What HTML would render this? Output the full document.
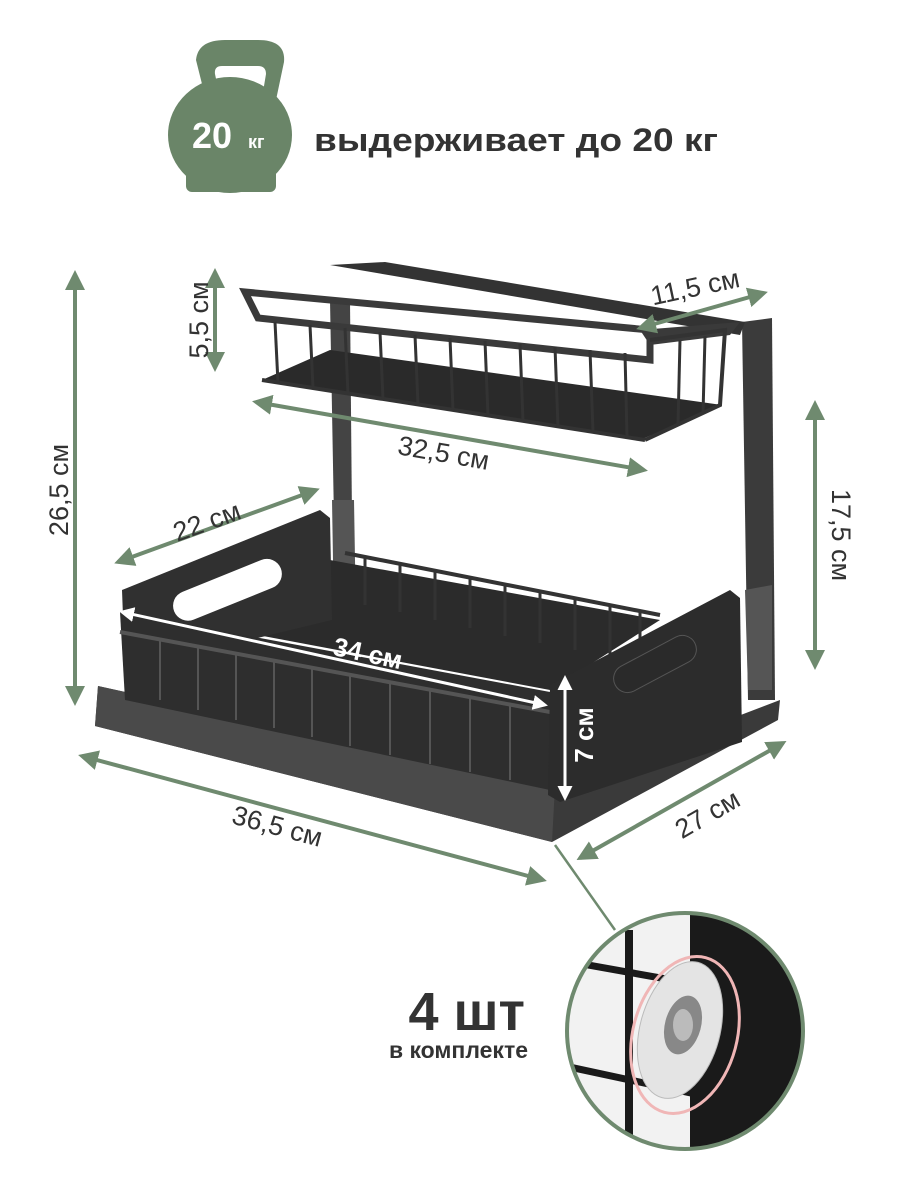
<!DOCTYPE html>
<html><head><meta charset="utf-8"><style>
html,body{margin:0;padding:0;background:#fff;}
svg{display:block}
text{font-family:"Liberation Sans",sans-serif;font-weight:bold;}
</style></head><body>
<svg width="900" height="1200" viewBox="0 0 900 1200" xmlns="http://www.w3.org/2000/svg">
<defs>
<marker id="ah" viewBox="0 0 10 10" refX="8" refY="5" markerWidth="5" markerHeight="5" orient="auto-start-reverse"><path d="M0,0 L10,5 L0,10 z" fill="#6f8a6f"/></marker>
<marker id="wh" viewBox="0 0 10 10" refX="8" refY="5" markerWidth="5" markerHeight="5" orient="auto-start-reverse"><path d="M0,0 L10,5 L0,10 z" fill="#fff"/></marker>
<clipPath id="cc"><circle cx="685" cy="1031" r="118"/></clipPath>
</defs>

<g fill="#6a8568">
<path d="M196,60 Q198,40 225,40 L258,40 Q286,40 284,62 L276,100 L262,98 L266,74 Q266,66 258,66 L222,66 Q214,66 215,74 L220,98 L206,100 Z"/>
<ellipse cx="230" cy="135" rx="62" ry="58"/>
<rect x="186" y="160" width="90" height="32" rx="6"/>
</g>
<text x="192" y="148" font-size="36" fill="#fff">20</text>
<text x="248" y="148" font-size="18" fill="#fff">кг</text>
<text x="314" y="151" font-size="32" fill="#333" textLength="404" lengthAdjust="spacingAndGlyphs">выдерживает до 20 кг</text>

<g>
<polygon points="742,322 772,318 775,700 748,700" fill="#3b3b3b"/>
<polygon points="745,590 772,585 772,690 748,690" fill="#555"/>
<polygon points="330,300 350,300 352,520 334,520" fill="#444"/>
<polygon points="332,500 354,500 356,620 334,620" fill="#555"/>
<polygon points="330,265 385,262 745,322 740,335" fill="#333"/>
<polygon points="245,292 650,330 650,360 258,318" fill="none" stroke="#3a3a3a" stroke-width="7"/>
<polygon points="262,380 640,440 722,405 330,350" fill="#2a2a2a"/>
<polygon points="640,330 740,322 730,335 650,345" fill="#3a3a3a"/>
<polyline points="650,340 725,330 720,405 645,440" fill="none" stroke="#333" stroke-width="4"/>
<line x1="262" y1="380" x2="645" y2="440" stroke="#333" stroke-width="4"/>
<g stroke="#333" stroke-width="3">
<line x1="275" y1="322" x2="278" y2="383"/><line x1="310" y1="325" x2="313" y2="388"/><line x1="345" y1="328" x2="348" y2="394"/><line x1="380" y1="332" x2="383" y2="399"/><line x1="415" y1="335" x2="418" y2="405"/><line x1="450" y1="338" x2="453" y2="410"/><line x1="485" y1="341" x2="488" y2="416"/><line x1="520" y1="344" x2="523" y2="421"/><line x1="555" y1="347" x2="558" y2="427"/><line x1="590" y1="350" x2="593" y2="432"/><line x1="625" y1="353" x2="627" y2="437"/>
<line x1="680" y1="340" x2="678" y2="425"/><line x1="705" y1="336" x2="703" y2="414"/>
</g>

<polygon points="98,686 555,786 780,700 778,720 552,842 95,726" fill="#3a3a3a"/>
<polygon points="98,686 555,786 552,842 95,726" fill="#4a4a4a"/>
<polygon points="125,610 330,560 660,620 550,690" fill="#2b2b2b"/>
<line x1="345" y1="553" x2="660" y2="615" stroke="#333" stroke-width="4"/>
<g stroke="#333" stroke-width="3">
<line x1="365" y1="557" x2="365" y2="605"/><line x1="400" y1="564" x2="400" y2="612"/><line x1="435" y1="571" x2="435" y2="620"/><line x1="470" y1="578" x2="470" y2="628"/><line x1="505" y1="585" x2="505" y2="636"/><line x1="540" y1="592" x2="540" y2="643"/><line x1="575" y1="599" x2="575" y2="650"/><line x1="610" y1="606" x2="610" y2="656"/><line x1="640" y1="612" x2="640" y2="660"/>
</g>
<polygon points="122,590 320,510 330,518 332,620 125,670" fill="#303030"/>
<rect x="170" y="575" width="115" height="30" rx="15" fill="#fff" transform="rotate(-22 227 590)"/>
<polygon points="120,612 550,692 550,790 125,700" fill="#2e2e2e"/>
<line x1="120" y1="632" x2="550" y2="712" stroke="#555" stroke-width="4"/>
<g stroke="#555" stroke-width="2">
<line x1="160" y1="640" x2="160" y2="700"/><line x1="198" y1="647" x2="198" y2="710"/><line x1="236" y1="654" x2="236" y2="720"/><line x1="274" y1="661" x2="274" y2="728"/><line x1="312" y1="668" x2="312" y2="737"/><line x1="350" y1="675" x2="350" y2="746"/><line x1="390" y1="683" x2="390" y2="755"/><line x1="430" y1="690" x2="430" y2="764"/><line x1="470" y1="697" x2="470" y2="772"/><line x1="510" y1="705" x2="510" y2="780"/>
</g>
<polygon points="550,685 730,590 740,598 742,742 560,802 548,795" fill="#2c2c2c"/>
<rect x="610" y="650" width="90" height="28" rx="14" fill="#2a2a2a" stroke="#555" transform="rotate(-28 655 664)"/>
</g>

<g stroke="#6f8a6f" stroke-width="4" fill="none">
<line x1="75" y1="274" x2="75" y2="702" marker-start="url(#ah)" marker-end="url(#ah)"/>
<line x1="215" y1="272" x2="215" y2="368" marker-start="url(#ah)" marker-end="url(#ah)"/>
<line x1="640" y1="328" x2="764" y2="293" marker-start="url(#ah)" marker-end="url(#ah)"/>
<line x1="256" y1="402" x2="644" y2="470" marker-start="url(#ah)" marker-end="url(#ah)"/>
<line x1="815" y1="404" x2="815" y2="666" marker-start="url(#ah)" marker-end="url(#ah)"/>
<line x1="118" y1="562" x2="316" y2="490" marker-start="url(#ah)" marker-end="url(#ah)"/>
<line x1="82" y1="756" x2="543" y2="880" marker-start="url(#ah)" marker-end="url(#ah)"/>
<line x1="580" y1="858" x2="783" y2="743" marker-start="url(#ah)" marker-end="url(#ah)"/>
<line x1="555" y1="845" x2="615" y2="930" stroke-width="2.5"/>
</g>
<g stroke="#fff" stroke-width="3">
<line x1="122" y1="612" x2="545" y2="705" marker-start="url(#wh)" marker-end="url(#wh)"/>
<line x1="565" y1="678" x2="565" y2="798" marker-start="url(#wh)" marker-end="url(#wh)"/>
</g>

<g fill="#333" font-size="27">
<text transform="translate(68,490) rotate(-90)" text-anchor="middle" style="font-weight:500">26,5 см</text>
<text transform="translate(208,320) rotate(-90)" text-anchor="middle" style="font-weight:500">5,5 см</text>
<text transform="translate(697,296) rotate(-12)" text-anchor="middle" style="font-weight:500">11,5 см</text>
<text transform="translate(442,462) rotate(10)" text-anchor="middle" style="font-weight:500">32,5 см</text>
<text transform="translate(832,535) rotate(90)" text-anchor="middle" style="font-weight:500">17,5 см</text>
<text transform="translate(210,530) rotate(-20)" text-anchor="middle" style="font-weight:500">22 см</text>
<text transform="translate(275,835) rotate(15)" text-anchor="middle" style="font-weight:500">36,5 см</text>
<text transform="translate(712,822) rotate(-30)" text-anchor="middle" style="font-weight:500">27 см</text>
</g>
<text transform="translate(366,662) rotate(12)" text-anchor="middle" font-size="26" fill="#fff">34 см</text>
<text transform="translate(593,735) rotate(-90)" text-anchor="middle" font-size="26" fill="#fff">7 см</text>

<g clip-path="url(#cc)">
<rect x="560" y="910" width="260" height="250" fill="#f2f2f2"/>
<rect x="690" y="905" width="130" height="260" fill="#1a1a1a"/>
<rect x="625" y="930" width="8" height="230" fill="#1a1a1a"/>
<line x1="560" y1="960" x2="700" y2="985" stroke="#1a1a1a" stroke-width="7"/>
<line x1="560" y1="1065" x2="700" y2="1095" stroke="#1a1a1a" stroke-width="7"/>
<ellipse cx="685" cy="1035" rx="52" ry="80" fill="none" stroke="#f0b6b6" stroke-width="3" transform="rotate(15 685 1035)"/>
<ellipse cx="680" cy="1030" rx="40" ry="70" fill="#e4e4e4" stroke="#bbb" transform="rotate(15 680 1030)"/>
<ellipse cx="683" cy="1025" rx="18" ry="30" fill="#888" transform="rotate(15 683 1025)"/>
<ellipse cx="683" cy="1025" rx="10" ry="16" fill="#bbb"/>
</g>
<circle cx="685" cy="1031" r="118" fill="none" stroke="#6f8a6f" stroke-width="4"/>

<text x="525" y="1030" text-anchor="end" font-size="54" fill="#333">4 шт</text>
<text x="528" y="1058" text-anchor="end" font-size="23" fill="#333">в комплекте</text>
</svg>
</body></html>
